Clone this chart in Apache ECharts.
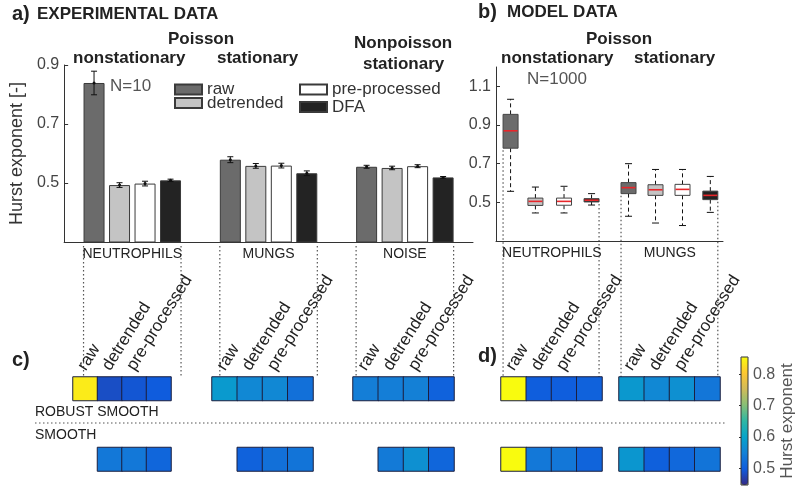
<!DOCTYPE html>
<html><head><meta charset="utf-8">
<script src="https://cdn.jsdelivr.net/npm/echarts@6/dist/echarts.min.js"></script>
<style>html,body{margin:0;padding:0;background:#fff}#c{width:800px;height:489px}</style>
</head><body><div id="c"></div>
<script>
// ------------------------- DATA -------------------------
const groups = ['NEUTROPHILS', 'MUNGS', 'NOISE'];
const methods = ['raw', 'detrended', 'pre-processed', 'DFA'];
const yTicksA = [0.5, 0.7, 0.9];
const yTicksB = [0.5, 0.7, 0.9, 1.1];
const cbTicks = [0.5, 0.6, 0.7, 0.8];

// a) experimental data: mean and error
const rawMean = [0.839, 0.579, 0.555];
const rawErr = [0.040, 0.010, 0.005];
const detrendedMean = [0.493, 0.558, 0.551];
const detrendedErr = [0.008, 0.008, 0.006];
const preMean = [0.498, 0.559, 0.557];
const preErr = [0.008, 0.008, 0.005];
const dfaMean = [0.509, 0.533, 0.519];
const dfaErr = [0.004, 0.008, 0.003];

// b) model data: [lower whisker, q1, median, q3, upper whisker]
const modelGroups = ['NEUTROPHILS', 'MUNGS'];
const boxNeutRaw = [0.557, 0.780, 0.870, 0.955, 1.033];
const boxNeutDetrended = [0.445, 0.484, 0.505, 0.522, 0.579];
const boxNeutPre = [0.445, 0.485, 0.505, 0.522, 0.583];
const boxNeutDfa = [0.486, 0.502, 0.511, 0.519, 0.545];
const boxMungsRaw = [0.428, 0.545, 0.576, 0.602, 0.700];
const boxMungsDetrended = [0.393, 0.536, 0.565, 0.591, 0.670];
const boxMungsPre = [0.380, 0.536, 0.567, 0.593, 0.670];
const boxMungsDfa = [0.448, 0.514, 0.536, 0.558, 0.634];

// c) / d) heatmaps (raw, detrended, pre-processed, DFA)
const heatCRobustNeut = [0.839, 0.484, 0.492, 0.498];
const heatCRobustMungs = [0.585, 0.559, 0.559, 0.526];
const heatCRobustNoise = [0.545, 0.545, 0.547, 0.506];
const heatCSmoothNeut = [null, 0.537, 0.537, 0.512];
const heatCSmoothMungs = [null, 0.506, 0.526, 0.531];
const heatCSmoothNoise = [null, 0.539, 0.571, 0.512];
const heatDRobustNeut = [0.870, 0.501, 0.501, 0.506];
const heatDRobustMungs = [0.582, 0.559, 0.571, 0.534];
const heatDSmoothNeut = [0.870, 0.537, 0.535, 0.509];
const heatDSmoothMungs = [0.580, 0.503, 0.514, 0.531];
const colorMin = 0.447, colorMax = 0.855;

// ------------------------- STYLE / LAYOUT -------------------------
const FONT = '"Liberation Sans", Arial, Helvetica, sans-serif';
const parula = ['#352a87', '#0f5cdd', '#1481d6', '#06a4ca', '#2eb7a4', '#87bf77', '#d1bb59', '#fec832', '#f9fb0e'];
const barColors = ['#6b6b6b', '#c4c4c4', '#ffffff', '#232323'];
const barOffsets = [-38.25, -12.75, 12.75, 38.25];
const boxPos = [[1, 5.37], [1.92, 6.37], [2.98, 7.37], [4.0, 8.4]];
const heatTop = 377;

const chart = echarts.init(document.getElementById('c'));

const barMeans = [rawMean, detrendedMean, preMean, dfaMean];
const barErrs = [rawErr, detrendedErr, preErr, dfaErr];
const boxData = [[boxNeutRaw, boxMungsRaw], [boxNeutDetrended, boxMungsDetrended], [boxNeutPre, boxMungsPre], [boxNeutDfa, boxMungsDfa]];

const grids = [
  {left: 52, top: 65, width: 421, height: 177},
  {left: 496, top: 67, width: 227, height: 174},
  {left: 73, top: heatTop, width: 98, height: 94},
  {left: 212, top: heatTop, width: 101, height: 94},
  {left: 353, top: heatTop, width: 101, height: 94},
  {left: 501, top: heatTop, width: 101, height: 94},
  {left: 619, top: heatTop, width: 101, height: 94},
  {left: 741, top: 357, width: 7, height: 128}
];

const axisLine = {show: true, lineStyle: {color: '#333', width: 1}};
const xAxes = [], yAxes = [];
xAxes.push({gridIndex: 0, type: 'category', data: groups, axisLine, axisTick: {show: false},
  axisLabel: {fontSize: 14, color: '#222', margin: 5, fontFamily: FONT}, splitLine: {show: false}});
yAxes.push({gridIndex: 0, type: 'value', min: 0.3, max: 0.9, axisLine,
  axisTick: {show: true, inside: true, length: 4, customValues: yTicksA, lineStyle: {color: '#333'}},
  axisLabel: {customValues: yTicksA, fontSize: 16, color: '#444', margin: 5, fontFamily: FONT, formatter: v => (+v).toFixed(1)},
  splitLine: {show: false}, name: 'Hurst exponent [-]', nameLocation: 'middle', nameGap: 25,
  nameTextStyle: {fontSize: 18, color: '#333', fontFamily: FONT}});
xAxes.push({gridIndex: 1, type: 'value', min: 0.46, max: 8.87, axisLine, axisTick: {show: false},
  axisLabel: {customValues: [2.53, 6.9], fontSize: 14, color: '#222', margin: 5, fontFamily: FONT,
    formatter: v => v < 5 ? modelGroups[0] : modelGroups[1]}, splitLine: {show: false}});
yAxes.push({gridIndex: 1, type: 'value', min: 0.3, max: 1.2, axisLine,
  axisTick: {show: true, inside: true, length: 4, customValues: yTicksB, lineStyle: {color: '#333'}},
  axisLabel: {customValues: yTicksB, fontSize: 16, color: '#444', margin: 5, fontFamily: FONT, formatter: v => (+v).toFixed(1)},
  splitLine: {show: false}});
for (let g = 2; g <= 6; g++) {
  xAxes.push({gridIndex: g, type: 'category', data: methods, position: 'top', axisLine: {show: false}, axisTick: {show: false},
    axisLabel: {show: false}, splitLine: {show: false}});
  yAxes.push({gridIndex: g, type: 'category', data: ['robust', 'g1', 'g2', 'smooth'], inverse: true, show: false});
}
xAxes.push({gridIndex: 7, type: 'value', min: 0, max: 1, show: false});
yAxes.push({gridIndex: 7, type: 'value', position: 'right', min: colorMin, max: colorMax,
  axisLine: {show: false},
  axisTick: {show: true, inside: true, length: 2, customValues: cbTicks, lineStyle: {color: '#333'}},
  axisLabel: {customValues: cbTicks, fontSize: 16, color: '#555', margin: 5, fontFamily: FONT, formatter: v => (+v).toFixed(1)},
  splitLine: {show: false}, name: 'Hurst exponent', nameLocation: 'middle', nameGap: 31,
  nameTextStyle: {fontSize: 17, color: '#555', fontFamily: FONT}});

const series = [];
methods.forEach((m, k) => {
  series.push({type: 'bar', name: m, xAxisIndex: 0, yAxisIndex: 0, data: barMeans[k], barWidth: 21, barGap: '21.4%',
    itemStyle: {color: barColors[k], borderColor: '#3a3a3a', borderWidth: 1}});
});
methods.forEach((m, k) => {
  series.push({type: 'custom', name: 'err ' + m, xAxisIndex: 0, yAxisIndex: 0, z: 5, silent: true,
    data: groups.map((g, i) => [i, barMeans[k][i] - barErrs[k][i], barMeans[k][i] + barErrs[k][i], barMeans[k][i]]),
    encode: {x: 0, y: [1, 2]},
    renderItem: (params, api) => {
      const i = api.value(0);
      const lo = api.coord([i, api.value(1)]), hi = api.coord([i, api.value(2)]), mid = api.coord([i, api.value(3)]);
      const x = lo[0] + barOffsets[k], cw = 3;
      const st = {stroke: '#111', lineWidth: 1};
      return {type: 'group', children: [
        {type: 'line', shape: {x1: x, y1: hi[1], x2: x, y2: lo[1]}, style: st},
        {type: 'line', shape: {x1: x - cw, y1: hi[1], x2: x + cw, y2: hi[1]}, style: st},
        {type: 'line', shape: {x1: x - cw, y1: lo[1], x2: x + cw, y2: lo[1]}, style: st},
        {type: 'circle', shape: {cx: x, cy: mid[1], r: 1.5}, style: {fill: '#111'}}
      ]};
    }});
});
methods.forEach((m, k) => {
  series.push({type: 'custom', name: 'box ' + m, xAxisIndex: 1, yAxisIndex: 1, silent: true,
    data: boxData[k].map((b, j) => [boxPos[k][j]].concat(b)),
    encode: {x: 0, y: [1, 5]},
    renderItem: (params, api) => {
      const p = api.value(0);
      const c = v => api.coord([p, v]);
      const x = c(api.value(1))[0];
      const yLow = c(api.value(1))[1], yQ1 = c(api.value(2))[1], yMed = c(api.value(3))[1], yQ3 = c(api.value(4))[1], yHigh = c(api.value(5))[1];
      const hw = 7.5, cw = 3.5;
      const dash = {stroke: '#111', lineWidth: 1, lineDash: [4, 3]};
      const solid = {stroke: '#111', lineWidth: 1};
      return {type: 'group', children: [
        {type: 'line', shape: {x1: x, y1: yQ3, x2: x, y2: yHigh}, style: dash},
        {type: 'line', shape: {x1: x, y1: yQ1, x2: x, y2: yLow}, style: dash},
        {type: 'line', shape: {x1: x - cw, y1: yHigh, x2: x + cw, y2: yHigh}, style: solid},
        {type: 'line', shape: {x1: x - cw, y1: yLow, x2: x + cw, y2: yLow}, style: solid},
        {type: 'rect', shape: {x: x - hw, y: yQ3, width: 2 * hw, height: yQ1 - yQ3}, style: {fill: barColors[k], stroke: '#444', lineWidth: 1}},
        {type: 'line', shape: {x1: x - hw + 0.5, y1: yMed, x2: x + hw - 0.5, y2: yMed}, style: {stroke: '#e8262a', lineWidth: 1.6}}
      ]};
    }});
});

const heatBlocks = [
  [2, heatCRobustNeut, heatCSmoothNeut],
  [3, heatCRobustMungs, heatCSmoothMungs],
  [4, heatCRobustNoise, heatCSmoothNoise],
  [5, heatDRobustNeut, heatDSmoothNeut],
  [6, heatDRobustMungs, heatDSmoothMungs]
];
const heatIdx = [];
heatBlocks.forEach(([g, robust, smooth]) => {
  const d = [];
  robust.forEach((v, i) => { if (v != null) d.push([i, 0, v]); });
  smooth.forEach((v, i) => { if (v != null) d.push([i, 3, v]); });
  heatIdx.push(series.length);
  series.push({type: 'heatmap', name: 'heat' + g, xAxisIndex: g, yAxisIndex: g, data: d,
    itemStyle: {borderColor: '#1b1f3f', borderWidth: 1}});
});

const option = {
  animation: false,
  backgroundColor: '#fff',
  grid: grids,
  xAxis: xAxes,
  yAxis: yAxes,
  legend: [
    {data: ['raw', 'detrended'], left: 169, top: 76, orient: 'vertical', itemWidth: 27, itemHeight: 10, itemGap: -3.5,
      selectedMode: false, icon: 'rect', textStyle: {fontSize: 17, color: '#333', fontFamily: FONT}},
    {data: ['pre-processed', 'DFA'], left: 294, top: 76, orient: 'vertical', itemWidth: 27, itemHeight: 10, itemGap: 0.5,
      selectedMode: false, icon: 'rect', textStyle: {fontSize: 17, color: '#333', fontFamily: FONT}}
  ],
  visualMap: {type: 'continuous', min: colorMin, max: colorMax, seriesIndex: heatIdx, calculable: false,
    orient: 'vertical', left: 741, top: 357, itemWidth: 7, itemHeight: 128, padding: 0, text: null,
    inRange: {color: parula}, outOfRange: {color: ['#f9fb0e']}},
  series
};
chart.setOption(option);

// ------------------------- ANNOTATIONS -------------------------
const txt = (s, x, y, size, bold, color) => ({type: 'text', x, y, silent: true,
  style: {text: s, fontSize: size, fontWeight: bold ? 'bold' : 'normal', fontFamily: FONT, fill: color || '#222', verticalAlign: 'middle', align: 'left'}});
const dotted = (x1, y1, x2, y2) => ({type: 'line', silent: true, shape: {x1, y1, x2, y2},
  style: {stroke: '#555', lineWidth: 1.2, lineDash: [1.5, 2.5]}});

const els = [
  txt('a)', 12, 14, 20, true), txt('EXPERIMENTAL DATA', 37, 14, 17, true),
  txt('Poisson', 168, 39, 17, true), txt('nonstationary', 73, 58, 17, true), txt('stationary', 217, 58, 17, true),
  txt('Nonpoisson', 354, 43, 17, true), txt('stationary', 363, 64, 17, true),
  txt('N=10', 110, 86, 17, false, '#555'),
  txt('b)', 478, 12, 20, true), txt('MODEL DATA', 507, 12.5, 17, true),
  txt('Poisson', 586, 39, 17, true), txt('nonstationary', 501, 58, 17, true), txt('stationary', 634, 58, 17, true),
  txt('N=1000', 527, 79, 17, false, '#555'),
  txt('c)', 12, 360, 20, true), txt('d)', 478, 356, 20, true),
  txt('ROBUST SMOOTH', 35, 412, 14, false), txt('SMOOTH', 35, 435, 14, false),
  dotted(35, 423, 727, 423),
  {type: 'rect', silent: true, shape: {x: 741, y: 357, width: 7, height: 128}, style: {fill: 'none', stroke: '#333', lineWidth: 1}, z: 10}
];
groups.forEach((g, i) => {
  const c = chart.convertToPixel({gridIndex: 0}, [i, 0.3]);
  const l = c[0] + barOffsets[0] - 10.5, r = c[0] + barOffsets[3] + 10.5;
  els.push(dotted(l, c[1] + 4, l, heatTop), dotted(r, c[1] + 4, r, heatTop));
});
modelGroups.forEach((g, j) => {
  const pl = chart.convertToPixel({gridIndex: 1}, [boxPos[0][j], boxData[0][j][1]]);
  const pr = chart.convertToPixel({gridIndex: 1}, [boxPos[3][j], boxData[3][j][1]]);
  els.push(dotted(pl[0] - 7.5, pl[1] + 2, pl[0] - 7.5, heatTop), dotted(pr[0] + 7.5, pr[1] + 2, pr[0] + 7.5, heatTop));
});
// rotated column labels above the heatmap cells (raw, detrended, pre-processed)
const labelAngle = 58 * Math.PI / 180;
for (let g = 2; g <= 6; g++) {
  for (let i = 0; i < 3; i++) {
    const p = chart.convertToPixel({gridIndex: g}, [i, 0]);
    els.push({type: 'text', x: p[0] - 3.5, y: heatTop - 8, rotation: labelAngle, silent: true,
      style: {text: methods[i], fontSize: 17, fontFamily: FONT, fill: '#222', align: 'left', verticalAlign: 'middle'}});
  }
}
chart.setOption({graphic: {elements: els}});
</script>
</body></html>
